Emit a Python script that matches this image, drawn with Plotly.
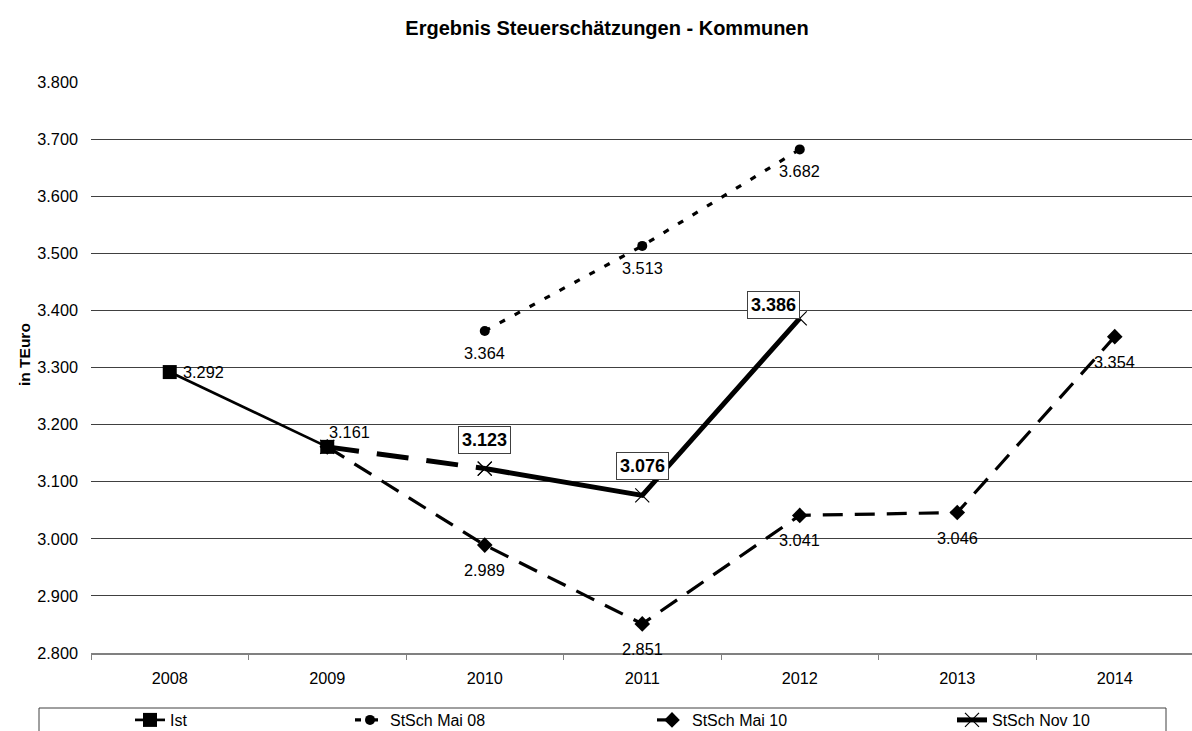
import plotly.graph_objects as go

years = ["2008", "2009", "2010", "2011", "2012", "2013", "2014"]

ist_years = ["2008", "2009"]
ist_vals = [3.292, 3.161]

mai08_years = ["2010", "2011", "2012"]
mai08_vals = [3.364, 3.513, 3.682]

mai10_years = ["2009", "2010", "2011", "2012", "2013", "2014"]
mai10_vals = [3.161, 2.989, 2.851, 3.041, 3.046, 3.354]

nov10_years = ["2009", "2010", "2011", "2012"]
nov10_vals = [3.161, 3.123, 3.076, 3.386]

FONT = "Liberation Sans, Arial, sans-serif"
W, H = 1192, 731
L, T, B = 91, 82, 78
PW, PH = W - L, H - T - B
CAT = 157.5


def px_x(px):
    return (px - L) / PW


def px_y(py):
    return (H - B - py) / PH


fig = go.Figure()

fig.add_trace(go.Scatter(
    x=mai10_years, y=mai10_vals, name="StSch Mai 10", mode="lines+markers",
    line=dict(color="black", width=3.2, dash="20px,12px"),
    marker=dict(symbol="diamond", size=12, color="black"), legend="legend3"))

fig.add_trace(go.Scatter(
    x=mai08_years, y=mai08_vals, name="StSch Mai 08", mode="lines+markers",
    line=dict(color="black", width=3.2, dash="6px,11px"),
    marker=dict(symbol="circle", size=10, color="black"), legend="legend2"))

fig.add_trace(go.Scatter(
    x=nov10_years[:2], y=nov10_vals[:2], name="StSch Nov 10", mode="lines+markers",
    line=dict(color="black", width=5, dash="32px,18px"),
    marker=dict(symbol="x-thin", size=14, color="black", line=dict(color="black", width=1.2)),
    showlegend=False))

fig.add_trace(go.Scatter(
    x=nov10_years[1:], y=nov10_vals[1:], name="StSch Nov 10", mode="lines+markers",
    line=dict(color="black", width=5),
    marker=dict(symbol="x-thin", size=14, color="black", line=dict(color="black", width=1.2)),
    legend="legend4"))

fig.add_trace(go.Scatter(
    x=ist_years, y=ist_vals, name="Ist", mode="lines+markers",
    line=dict(color="black", width=2.7),
    marker=dict(symbol="square", size=14, color="black"), legend="legend"))

annotations = []


def add_labels(xs, ys, xshift, yshift, bold=False, boxed=False, xanchor="center"):
    for x, y in zip(xs, ys):
        txt = f"{y:.3f}"
        a = dict(
            x=years.index(x), y=y, xref="x", yref="y",
            text=f"<b>{txt}</b>" if bold else txt,
            showarrow=False, xshift=xshift, yshift=yshift, xanchor=xanchor,
            font=dict(family=FONT, size=18 if bold else 16.3, color="black"))
        if boxed:
            a.update(bordercolor="#404040", borderwidth=1, borderpad=3, bgcolor="white")
        annotations.append(a)


add_labels(ist_years[:1], ist_vals[:1], 11, 0, xanchor="left")
add_labels(ist_years[1:], ist_vals[1:], 22, 15)
add_labels(mai08_years, mai08_vals, 0, -22)
add_labels(mai10_years[1:], mai10_vals[1:], 0, -25)
add_labels(nov10_years[1:3], nov10_vals[1:3], 0, 29, bold=True, boxed=True)
add_labels(nov10_years[3:], nov10_vals[3:], -26, 13, bold=True, boxed=True)

annotations.append(dict(
    x=px_x(24), y=px_y(355), xref="paper", yref="paper", text="<b>in TEuro</b>",
    textangle=-90, showarrow=False, xanchor="center", yanchor="middle",
    font=dict(family=FONT, size=15.5, color="black")))

legend_common = dict(orientation="h", xanchor="left", yanchor="top",
                     y=px_y(703), bgcolor="rgba(0,0,0,0)",
                     font=dict(size=16, family=FONT, color="black"))

fig.update_layout(
    width=W, height=H,
    margin=dict(l=L, r=0, t=T, b=B, autoexpand=False),
    paper_bgcolor="white", plot_bgcolor="white",
    title=dict(text="<b>Ergebnis Steuerschätzungen - Kommunen</b>", x=607 / W, xref="container",
               xanchor="center", y=1 - 28 / H, yref="container", yanchor="middle",
               font=dict(family=FONT, size=20, color="black")),
    font=dict(family=FONT, color="black"),
    xaxis=dict(type="category", categoryorder="array", categoryarray=years,
               range=[-0.5, -0.5 + PW / CAT], tickson="boundaries", ticks="outside", ticklen=5,
               tickcolor="#808080", showline=True, linecolor="#808080", linewidth=1.5,
               showgrid=False, tickfont=dict(size=16.3, family=FONT), ticklabelstandoff=10,
               fixedrange=True),
    yaxis=dict(range=[2.8, 3.8], dtick=0.1, tickformat=".3f", showgrid=True,
               gridcolor="#404040", gridwidth=1, zeroline=False, showline=False,
               tickfont=dict(size=16.3, family=FONT), ticks="", ticklabelstandoff=12,
               fixedrange=True),
    legend=dict(x=px_x(175 - 45), **legend_common),
    legend2=dict(x=px_x(395 - 45), **legend_common),
    legend3=dict(x=px_x(697 - 45), **legend_common),
    legend4=dict(x=px_x(997 - 45), **legend_common),
    annotations=annotations,
    shapes=[dict(type="rect", xref="paper", yref="paper",
                 x0=px_x(39), x1=px_x(1166),
                 y0=px_y(745), y1=px_y(708),
                 line=dict(color="#404040", width=1))],
)

fig.write_html("out.html", config={"displayModeBar": False},
               post_script="document.body.style.margin='0';document.body.style.overflow='hidden';")
